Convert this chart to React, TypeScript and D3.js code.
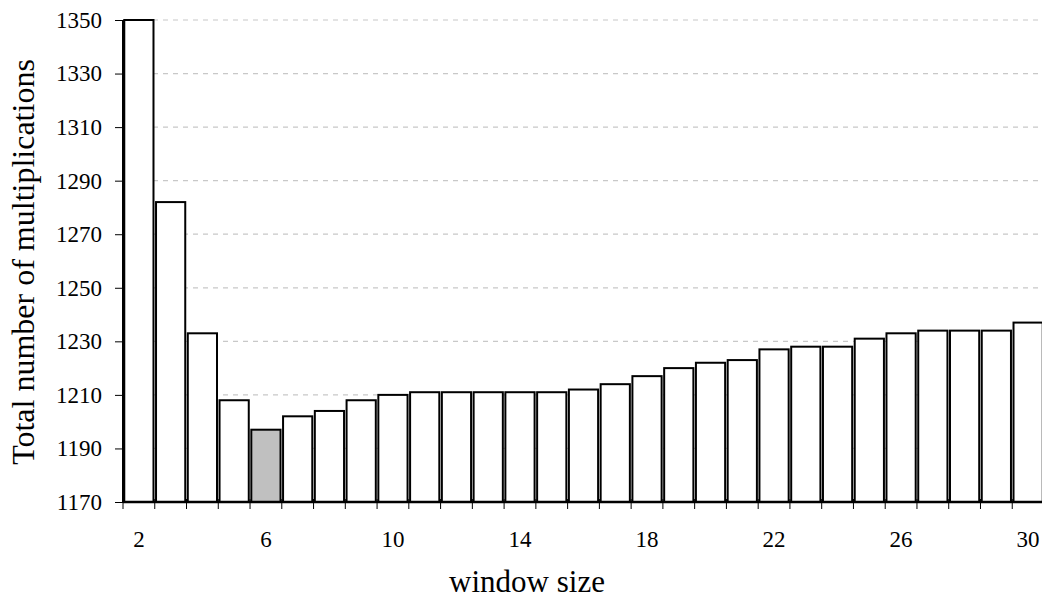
import React, { useEffect, useRef } from "react";
import * as d3 from "d3";

const windowSizes = [2, 3, 4, 5, 6, 7, 8, 9, 10, 11, 12, 13, 14, 15, 16, 17, 18, 19, 20, 21, 22, 23, 24, 25, 26, 27, 28, 29, 30];
const multiplications = [1350, 1282, 1233, 1208, 1197, 1202, 1204, 1208, 1210, 1211, 1211, 1211, 1211, 1211, 1212, 1214, 1217, 1220, 1222, 1223, 1227, 1228, 1228, 1231, 1233, 1234, 1234, 1234, 1237];
const yTicks = [1170, 1190, 1210, 1230, 1250, 1270, 1290, 1310, 1330, 1350];
const xLabels = [2, 6, 10, 14, 18, 22, 26, 30];
const bestWindow = 6;

const W = 1042;
const H = 602;
const margin = { top: 20, right: -2, bottom: 100, left: 123 };

export default function App() {
  const svgRef = useRef<SVGSVGElement>(null);

  useEffect(() => {
    const svg = d3.select(svgRef.current);
    svg.selectAll("*").remove();

    const x = d3
      .scaleBand<number>()
      .domain(windowSizes)
      .range([margin.left, W - margin.right])
      .paddingInner(0.08)
      .paddingOuter(0.04);

    const y = d3
      .scaleLinear()
      .domain([1170, 1350])
      .range([H - margin.bottom, margin.top]);

    const font = "Liberation Serif, Times New Roman, DejaVu Serif, serif";

    // grid
    svg
      .append("g")
      .selectAll("line")
      .data(yTicks)
      .enter()
      .append("line")
      .attr("x1", margin.left)
      .attr("x2", W)
      .attr("y1", (d) => y(d))
      .attr("y2", (d) => y(d))
      .attr("stroke", "#c8c8c8")
      .attr("stroke-width", 1.2)
      .attr("stroke-dasharray", "5,5");

    // bars
    svg
      .append("g")
      .selectAll("rect")
      .data(windowSizes)
      .enter()
      .append("rect")
      .attr("x", (d) => x(d)!)
      .attr("y", (d, i) => y(multiplications[i]))
      .attr("width", x.bandwidth())
      .attr("height", (d, i) => y(1170) - y(multiplications[i]))
      .attr("fill", (d) => (d === bestWindow ? "#c0c0c0" : "#fff"))
      .attr("stroke", "#000")
      .attr("stroke-width", 2);

    // y axis
    const yAxis = svg
      .append("g")
      .attr("transform", `translate(${margin.left},0)`)
      .call(d3.axisLeft(y).tickValues(yTicks).tickSize(8).tickPadding(13).tickFormat(d3.format("d")));
    yAxis.attr("font-family", null);
    yAxis.select(".domain").attr("stroke-width", 2).attr("d", `M0,${y(1170)}V${y(1350)}`);
    yAxis.selectAll("text").style("font-family", font).style("font-size", "23px").attr("fill", "#000");

    // x axis: ticks at band boundaries
    const bottom = H - margin.bottom;
    const step = x.step();
    const boundaries = windowSizes.map((d) => x(d)! - (step - x.bandwidth()) / 2);
    const xg = svg.append("g");
    xg.selectAll("line")
      .data(boundaries)
      .enter()
      .append("line")
      .attr("x1", (d) => d)
      .attr("x2", (d) => d)
      .attr("y1", bottom - 3)
      .attr("y2", bottom + 7)
      .attr("stroke", "#000")
      .attr("stroke-width", 1);
    xg.append("line")
      .attr("x1", margin.left)
      .attr("x2", W)
      .attr("y1", bottom)
      .attr("y2", bottom)
      .attr("stroke", "#000")
      .attr("stroke-width", 2.5);
    xg.selectAll("text")
      .data(xLabels)
      .enter()
      .append("text")
      .attr("x", (d) => x(d)! + x.bandwidth() / 2)
      .attr("y", bottom + 45)
      .attr("text-anchor", "middle")
      .style("font-family", font)
      .style("font-size", "23px")
      .text((d) => d);

    svg
      .append("text")
      .attr("x", 527)
      .attr("y", 592)
      .attr("text-anchor", "middle")
      .style("font-family", font)
      .style("font-size", "31px")
      .text("window size");

    svg
      .append("text")
      .attr("transform", `translate(34,262) rotate(-90)`)
      .attr("text-anchor", "middle")
      .style("font-family", font)
      .style("font-size", "32px")
      .text("Total number of multiplications");
  }, []);

  return (
    <div style={{ position: "absolute", left: 0, top: 0 }}>
      <svg ref={svgRef} width={W} height={H} style={{ display: "block", background: "#fff" }} />
    </div>
  );
}
